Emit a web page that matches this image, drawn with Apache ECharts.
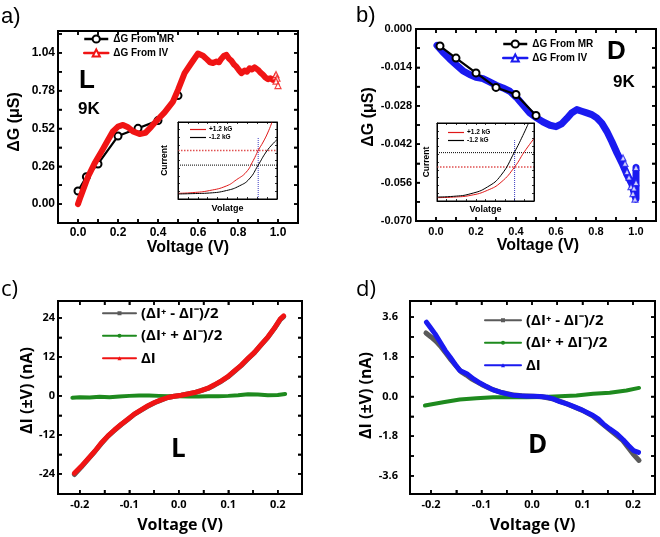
<!DOCTYPE html>
<html><head><meta charset="utf-8">
<script src="https://cdn.jsdelivr.net/npm/echarts@6/dist/echarts.min.js"></script>
<style>html,body{margin:0;padding:0;background:#fff}#c{width:660px;height:537px}</style>
</head><body><div id="c"></div>
<script>
// ---------- Panel a (L, 9K) ----------
const aVMR = [0.0, 0.042, 0.1, 0.2, 0.3, 0.4, 0.5];
const aGMR = [0.09, 0.188, 0.276, 0.468, 0.521, 0.574, 0.746];
const aVIV = [0, 0.01, 0.025, 0.05, 0.083, 0.117, 0.15, 0.175, 0.2, 0.225, 0.25, 0.275, 0.308, 0.337, 0.367, 0.4, 0.433, 0.475, 0.5, 0.533, 0.567, 0.6, 0.625, 0.645, 0.66, 0.675, 0.692, 0.705, 0.717, 0.73, 0.742, 0.755, 0.767, 0.78, 0.792, 0.805, 0.817, 0.833, 0.845, 0.858, 0.87, 0.883, 0.9, 0.912, 0.925, 0.937, 0.95, 0.962, 0.975, 0.985];
const aGIV = [0.0, 0.04, 0.096, 0.188, 0.28, 0.36, 0.44, 0.50, 0.533, 0.544, 0.528, 0.50, 0.482, 0.49, 0.533, 0.583, 0.63, 0.705, 0.785, 0.90, 0.97, 1.035, 1.02, 0.995, 0.975, 0.97, 0.98, 0.975, 1.0, 1.02, 1.026, 1.0, 0.985, 0.96, 0.945, 0.92, 0.90, 0.918, 0.91, 0.934, 0.925, 0.94, 0.923, 0.905, 0.889, 0.87, 0.859, 0.865, 0.854, 0.86];
const aVEnd = [0.985, 0.99, 0.995, 0.99, 1.0];
const aGEnd = [0.875, 0.89, 0.865, 0.845, 0.815];
const aXTicks = [0, 0.2, 0.4, 0.6, 0.8, 1.0];
const aXMinor = [0.1, 0.3, 0.5, 0.7, 0.9];
const aYTicks = [0, 0.26, 0.52, 0.78, 1.04];
const aYMinor = [0.13, 0.39, 0.65, 0.91, 1.17];

// ---------- Panel b (D, 9K) ----------
const bVMR = [0.02, 0.1, 0.2, 0.3, 0.4, 0.5];
const bGMR = [-0.0062, -0.0106, -0.016, -0.0213, -0.0239, -0.0315];
const bVIV = [0.005, 0.034, 0.067, 0.1, 0.134, 0.168, 0.2, 0.235, 0.268, 0.3, 0.335, 0.369, 0.402, 0.436, 0.469, 0.503, 0.536, 0.57, 0.6, 0.628, 0.653, 0.678, 0.704, 0.729, 0.754, 0.779, 0.804, 0.829, 0.854, 0.879, 0.905, 0.93, 0.955, 0.98, 0.995, 1.0, 1.0];
const bGIV = [-0.006, -0.0084, -0.0108, -0.013, -0.0152, -0.0166, -0.0176, -0.0181, -0.0193, -0.0205, -0.0215, -0.0227, -0.0249, -0.0278, -0.0306, -0.0324, -0.0339, -0.0351, -0.0356, -0.0346, -0.0327, -0.0306, -0.0294, -0.030, -0.0306, -0.0312, -0.0324, -0.0343, -0.0373, -0.041, -0.0452, -0.0489, -0.0531, -0.0567, -0.061, -0.062, -0.0505];
const bVEnd = [0.935, 0.945, 0.955, 0.965, 0.975, 0.985, 0.99, 0.995, 1.0, 1.0];
const bGEnd = [-0.047, -0.049, -0.052, -0.054, -0.0575, -0.060, -0.058, -0.062, -0.056, -0.0505];
const bYTicks = [-0.07, -0.056, -0.042, -0.028, -0.014, 0];
const bYMinor = [-0.063, -0.049, -0.035, -0.021, -0.007];

// ---------- Panel c (L) ----------
const cV = [-0.211, -0.197, -0.184, -0.170, -0.157, -0.143, -0.130, -0.116, -0.103, -0.090, -0.076, -0.063, -0.049, -0.036, -0.022, -0.009, 0.005, 0.018, 0.032, 0.045, 0.059, 0.072, 0.086, 0.099, 0.112, 0.126, 0.139, 0.153, 0.166, 0.180, 0.193, 0.205, 0.212];
const cDI = [-23.8, -21.7, -19.5, -17.1, -14.6, -12.3, -10.5, -8.7, -7.2, -5.6, -4.3, -3.1, -2.05, -1.23, -0.5, -0.1, 0.2, 0.6, 1.03, 1.64, 2.36, 3.4, 4.6, 5.9, 7.6, 9.4, 11.4, 13.4, 15.7, 18.1, 20.8, 23.6, 24.6];
const cHalfDiff = [-24.2, -21.9, -19.6, -17.2, -14.8, -12.4, -10.6, -8.8, -7.3, -5.7, -4.4, -3.2, -2.1, -1.3, -0.5, -0.1, 0.2, 0.6, 1.0, 1.6, 2.3, 3.3, 4.5, 5.8, 7.5, 9.3, 11.3, 13.3, 15.6, 18.0, 20.7, 23.5, 24.4];
const cVg = [-0.215, -0.2, -0.18, -0.16, -0.14, -0.12, -0.1, -0.08, -0.06, -0.04, -0.02, 0, 0.02, 0.04, 0.06, 0.08, 0.1, 0.12, 0.14, 0.16, 0.18, 0.2, 0.215];
const cHalfSum = [-0.6, -0.4, -0.5, -0.3, -0.4, -0.2, 0.0, 0.1, 0.1, 0.0, -0.1, -0.1, -0.2, -0.2, -0.1, -0.1, 0.0, 0.2, 0.5, 0.4, 0.2, 0.3, 0.6];
const cXTicks = [-0.2, -0.1, 0, 0.1, 0.2];
const cXMinor = [-0.15, -0.05, 0.05, 0.15];
const cYTicks = [-24, -12, 0, 12, 24];
const cYMinor = [-18, -6, 6, 18];

// ---------- Panel d (D) ----------
const dV = [-0.209, -0.202, -0.192, -0.182, -0.172, -0.162, -0.152, -0.143, -0.129, -0.116, -0.103, -0.090, -0.077, -0.063, -0.050, -0.037, -0.024, -0.011, 0.003, 0.016, 0.029, 0.042, 0.055, 0.069, 0.082, 0.095, 0.108, 0.121, 0.131, 0.141, 0.154, 0.168, 0.181, 0.191, 0.201, 0.211];
const dDI = [3.37, 3.15, 2.84, 2.47, 2.09, 1.78, 1.45, 1.18, 1.03, 0.80, 0.61, 0.45, 0.30, 0.20, 0.12, 0.06, 0.03, 0.015, 0.015, 0, -0.03, -0.11, -0.23, -0.33, -0.45, -0.57, -0.71, -0.86, -1.01, -1.24, -1.47, -1.69, -1.97, -2.22, -2.45, -2.53];
const dVgray = [-0.21, -0.2, -0.19, -0.18, -0.17, -0.16, -0.15, -0.14, -0.13, -0.12, -0.1, -0.08, -0.06, -0.04, -0.02, 0, 0.02, 0.04, 0.06, 0.08, 0.1, 0.12, 0.14, 0.16, 0.18, 0.19, 0.2, 0.212];
const dHalfDiff = [2.88, 2.7, 2.5, 2.25, 1.95, 1.65, 1.38, 1.12, 0.97, 0.8, 0.55, 0.33, 0.18, 0.08, 0.03, 0.01, -0.01, -0.1, -0.25, -0.44, -0.63, -0.88, -1.25, -1.62, -2.0, -2.3, -2.6, -2.9];
const dVg = [-0.212, -0.176, -0.143, -0.11, -0.077, -0.044, -0.011, 0.022, 0.055, 0.088, 0.121, 0.154, 0.187, 0.212];
const dHalfSum = [-0.41, -0.26, -0.14, -0.08, -0.03, -0.03, -0.03, -0.02, 0.015, 0.045, 0.12, 0.17, 0.27, 0.39];
const dYTicks = [-3.6, -1.8, 0, 1.8, 3.6];
const dYMinor = [-2.7, -0.9, 0.9, 2.7];

// ---------- Insets (schematic I-V) ----------
const iaRedX = [0, 0.15, 0.32, 0.49, 0.59, 0.69, 0.76, 0.81, 0.86, 0.91, 0.95];
const iaRedY = [0.074, 0.083, 0.11, 0.17, 0.25, 0.35, 0.5, 0.63, 0.74, 0.87, 1.0];
const iaBlkX = [0, 0.15, 0.32, 0.49, 0.62, 0.72, 0.81, 0.89, 0.96, 1.0];
const iaBlkY = [0.065, 0.07, 0.078, 0.11, 0.17, 0.26, 0.44, 0.61, 0.72, 0.77];
const iaIplus = 0.63, iaIminus = 0.44, iaV = 0.81, iaVTop = 0.8;
const ibBlkX = [0, 0.17, 0.35, 0.52, 0.66, 0.8, 0.885, 0.944];
const ibBlkY = [0.051, 0.06, 0.094, 0.18, 0.33, 0.63, 0.84, 1.0];
const ibRedX = [0, 0.17, 0.35, 0.52, 0.66, 0.8, 0.9, 1.0];
const ibRedY = [0.043, 0.05, 0.073, 0.137, 0.24, 0.436, 0.63, 0.8];
const ibIplus = 0.436, ibIminus = 0.62, ibV = 0.8, ibVTop = 0.78;
const insetTicks = [0.1, 0.2, 0.3, 0.4, 0.5, 0.6, 0.7, 0.8, 0.9];

// ---------------------------------------------------------------
const FA = '"Liberation Sans", Arial, sans-serif';
const FO = '"Open Sans", sans-serif';
const zip = (xs, ys) => xs.map((x, i) => [x, ys[i]]);
const asc = arr => arr.slice().sort((p, q) => p - q);
const RED = '#f01414', BLUE = '#1a1af0', GREEN = '#1e8a1e', GRAY = '#5a5a5a';

function tickStyle(vals, len, w) {
  return { show: true, inside: true, length: len, customValues: asc(vals), lineStyle: { color: '#000', width: w } };
}
function frameLine(w) { return { show: true, onZero: false, lineStyle: { color: '#000', width: w } }; }
function mainAxes(gi, dim, min, max, major, minor, fmt, font, fs, margin, name, nameGap, pad) {
  const first = {
    type: 'value', gridIndex: gi, min: min, max: max,
    position: dim === 'x' ? 'bottom' : 'left',
    axisLine: frameLine(2), splitLine: { show: false },
    axisTick: tickStyle(major.concat(minor), 4, 1.5),
    axisLabel: { customValues: asc(major), formatter: fmt, margin: margin, color: '#000', fontWeight: 'bold', fontSize: fs, fontFamily: font },
    name: name, nameLocation: 'middle', nameGap: nameGap,
    nameTextStyle: { color: '#000', fontWeight: 'bold', fontSize: 16, fontFamily: font, align: 'center', verticalAlign: 'middle', padding: pad }
  };
  const second = {
    type: 'value', gridIndex: gi, min: min, max: max,
    position: dim === 'x' ? 'top' : 'right',
    axisLine: frameLine(2), splitLine: { show: false },
    axisTick: tickStyle(major.concat(minor), 4, 1.5),
    axisLabel: { show: false }
  };
  return [first, second];
}
const f1 = v => Number(v).toFixed(1), f2 = v => Number(v).toFixed(2), f3 = v => Number(v).toFixed(3), f0 = v => String(Number(v));

const xAxes = [].concat(
  mainAxes(0, 'x', -0.1, 1.1, aXTicks, aXMinor, f1, FA, 12, 4, 'Voltage (V)', 24, [0, 0, 0, 20]),
  mainAxes(1, 'x', -0.1, 1.1, aXTicks, aXMinor, f1, FA, 11, 5, 'Voltage (V)', 23, [0, 0, 0, 4]),
  mainAxes(2, 'x', -0.244, 0.249, cXTicks, cXMinor, f1, FO, 11, 5, 'Voltage (V)', 31, [0, 0, 0, 0]),
  mainAxes(3, 'x', -0.2416, 0.2436, cXTicks, cXMinor, f1, FO, 11, 5, 'Voltage (V)', 31, [0, 0, 0, 0])
);
const yAxes = [].concat(
  mainAxes(0, 'y', -0.13, 1.19, aYTicks, aYMinor, f2, FA, 12, 3, 'ΔG (μS)', 43, [0, 0, 0, 10]),
  mainAxes(1, 'y', -0.07, 0, bYTicks, bYMinor, f3, FA, 11, 4, 'ΔG (μS)', 43, [0, 0, 0, 16]),
  mainAxes(2, 'y', -30.2, 29.2, cYTicks, cYMinor, f0, FO, 11, 3, 'ΔI (±V) (nA)', 30, [0, 0, 0, 14]),
  mainAxes(3, 'y', -4.42, 4.33, dYTicks, dYMinor, f1, FO, 11, 12, 'ΔI (±V) (nA)', 38, [0, 0, 0, 4])
);

// inset axes: plain value axes (labels I+, I-, V are drawn as labelled points below)
function insetAxis(gi, pos, name, gap, fs) {
  const a = { type: 'value', gridIndex: gi, min: 0, max: 1, position: pos,
    axisLine: frameLine(1), splitLine: { show: false },
    axisTick: tickStyle(insetTicks, 2, 0.8),
    axisLabel: { show: false } };
  if (name) {
    a.name = name; a.nameLocation = 'middle'; a.nameGap = gap;
    a.nameTextStyle = { color: '#000', fontWeight: 'bold', fontSize: fs, fontFamily: FA, verticalAlign: 'middle' };
  }
  return a;
}
xAxes.push(insetAxis(4, 'bottom', 'Volatge', 10, 9), insetAxis(5, 'bottom', 'Volatge', 9, 9), insetAxis(4, 'top'), insetAxis(5, 'top'));
yAxes.push(insetAxis(4, 'left', 'Current', 13, 8.5), insetAxis(5, 'left', 'Current', 10, 8.5), insetAxis(4, 'right'), insetAxis(5, 'right'));

const Z = '\u200b';
function thick(name, xi, data, color, w, symbol, z) {
  return { type: 'line', name: name, xAxisIndex: xi, yAxisIndex: xi, data: data, showSymbol: false, symbol: symbol, symbolSize: 7,
    lineStyle: { color: color, width: w, join: 'round', cap: 'round' }, itemStyle: { color: color }, z: z, silent: true };
}
function mr(name, xi, data, z) {
  return { type: 'line', name: name, xAxisIndex: xi, yAxisIndex: xi, data: data, symbol: 'emptyCircle', symbolSize: 7, showSymbol: true,
    lineStyle: { color: '#000', width: 2.2 }, itemStyle: { color: '#000', borderColor: '#000', borderWidth: 1.5 }, z: z, silent: true };
}
function endTri(xi, data, color) {
  return { type: 'scatter', name: '_end' + xi, xAxisIndex: xi, yAxisIndex: xi, data: data, symbol: 'triangle', symbolSize: 6,
    itemStyle: { color: '#fff', borderColor: color, borderWidth: 1.2 }, z: 5, silent: true };
}
function thin(name, xi, data, color, type, w) {
  return { type: 'line', name: name, xAxisIndex: xi, yAxisIndex: xi, data: data, showSymbol: false, symbol: 'none', smooth: type === 'solid',
    lineStyle: { color: color, width: w, type: type }, itemStyle: { color: color }, z: 3, silent: true };
}
function tag(xi, pt, text, color, pos) {
  return { type: 'scatter', name: '_tag', xAxisIndex: xi, yAxisIndex: xi, data: [pt], symbolSize: 1, clip: false, silent: true,
    itemStyle: { opacity: 0 },
    label: { show: true, position: pos, distance: 2, formatter: text, color: color, fontSize: 9, fontWeight: 'bold', fontFamily: FA } };
}

const series = [
  mr('ΔG From MR', 0, zip(aVMR, aGMR), 3),
  thick('ΔG From IV', 0, zip(aVIV, aGIV), RED, 6, 'emptyTriangle', 4),
  endTri(0, zip(aVEnd, aGEnd), RED),
  thick('ΔG From IV' + Z, 2, zip(bVIV, bGIV), BLUE, 7, 'emptyTriangle', 3),
  endTri(2, zip(bVEnd, bGEnd), BLUE),
  mr('ΔG From MR' + Z, 2, zip(bVMR, bGMR), 4),
  thick('(ΔI⁺ - ΔI⁻)/2', 4, zip(cV, cHalfDiff), GRAY, 5, 'rect', 2),
  thick('(ΔI⁺ + ΔI⁻)/2', 4, zip(cVg, cHalfSum), GREEN, 4, 'circle', 3),
  thick('ΔI', 4, zip(cV, cDI), RED, 5, 'triangle', 4),
  thick('(ΔI⁺ - ΔI⁻)/2' + Z, 6, zip(dVgray, dHalfDiff), GRAY, 5, 'rect', 2),
  thick('(ΔI⁺ + ΔI⁻)/2' + Z, 6, zip(dVg, dHalfSum), GREEN, 4, 'circle', 3),
  thick('ΔI' + Z, 6, zip(dV, dDI), BLUE, 5, 'triangle', 4),
  thin('_ipa', 8, [[0, iaIplus], [1, iaIplus]], '#e05050', 'dotted', 1.5),
  thin('_ima', 8, [[0, iaIminus], [1, iaIminus]], '#000', 'dotted', 1),
  thin('_va', 8, [[iaV, 0], [iaV, iaVTop]], '#3a3ac0', 'dotted', 1),
  thin('+1.2 kG', 8, zip(iaRedX, iaRedY), '#e01818', 'solid', 1),
  thin('-1.2 kG', 8, zip(iaBlkX, iaBlkY), '#000', 'solid', 1),
  tag(8, [0, iaIplus], 'I⁺', '#e01818', 'left'),
  tag(8, [0, iaIminus], 'I⁻', '#000', 'left'),
  tag(8, [iaV, 0], 'V', '#2a2ab8', 'bottom'),
  thin('_ipb', 9, [[0, ibIplus], [1, ibIplus]], '#e05050', 'dotted', 1.5),
  thin('_imb', 9, [[0, ibIminus], [1, ibIminus]], '#000', 'dotted', 1),
  thin('_vb', 9, [[ibV, 0], [ibV, ibVTop]], '#3a3ac0', 'dotted', 1),
  thin('+1.2 kG', 9, zip(ibRedX, ibRedY), '#e01818', 'solid', 1),
  thin('-1.2 kG', 9, zip(ibBlkX, ibBlkY), '#000', 'solid', 1),
  tag(9, [0, ibIplus], 'I⁺', '#e01818', 'left'),
  tag(9, [0, ibIminus], 'I⁻', '#000', 'left'),
  tag(9, [ibV, 0], 'V', '#2a2ab8', 'bottom')
];

const strip = n => n.replace(/\u200b/g, '');
function mainLegend(names, left, top, iw, ih, fs, font, gap, lh, lw) {
  return { show: true, orient: 'vertical', left: left, top: top, padding: 0, itemWidth: iw, itemHeight: ih, itemGap: gap,
    data: names, formatter: strip, selectedMode: false, lineStyle: { width: lw },
    textStyle: { color: '#000', fontSize: fs, fontWeight: 'bold', fontFamily: font, lineHeight: lh } };
}
function insetLegend(left, top) {
  return { show: true, orient: 'vertical', left: left, top: top, padding: 0, itemWidth: 16, itemHeight: 1.2, itemGap: 1,
    icon: 'rect', data: ['+1.2 kG', '-1.2 kG'], selectedMode: false,
    textStyle: { color: '#000', fontSize: 6.5, fontWeight: 'bold', fontFamily: FA, lineHeight: 7, padding: [0, 0, 0, -2] } };
}

const graphic = [];
function txt(t, x, y, size, weight, font) {
  graphic.push({ type: 'text', x: x, y: y, silent: true, z: 100,
    style: { text: t, font: weight + ' ' + size + 'px ' + font, fill: '#000', textAlign: 'left', textVerticalAlign: 'middle' } });
}
txt('a)', 1, 17, 22, 'normal', FA);
txt('b)', 356, 16, 22, 'normal', FA);
txt('c)', 1, 290, 22, 'normal', FO);
txt('d)', 356, 290, 22, 'normal', FO);
txt('L', 79, 81, 26, 'bold', FA);
txt('9K', 78, 109, 17, 'bold', FA);
txt('D', 607, 52, 26, 'bold', FA);
txt('9K', 613, 82, 17, 'bold', FA);
txt('L', 171, 450, 26, 'bold', FO);
txt('D', 528, 446, 26, 'bold', FO);

const option = {
  animation: false,
  grid: [
    { left: 58, top: 31, width: 240, height: 192 },
    { left: 416, top: 29, width: 240, height: 192 },
    { left: 58, top: 301, width: 244, height: 193 },
    { left: 410, top: 301, width: 245, height: 193 },
    { left: 178, top: 122, width: 99, height: 77 },
    { left: 437, top: 123, width: 97, height: 78 }
  ],
  xAxis: xAxes,
  yAxis: yAxes,
  legend: [
    mainLegend(['ΔG From MR', 'ΔG From IV'], 83, 33, 24, 9, 10, FA, 2, 12, 2.5),
    mainLegend(['ΔG From MR' + Z, 'ΔG From IV' + Z], 502, 38, 24, 9, 10, FA, 2, 12, 2.5),
    mainLegend(['(ΔI⁺ - ΔI⁻)/2', '(ΔI⁺ + ΔI⁻)/2', 'ΔI'], 102, 305, 33, 5, 15, FO, 6, 16.5, 2),
    mainLegend(['(ΔI⁺ - ΔI⁻)/2' + Z, '(ΔI⁺ + ΔI⁻)/2' + Z, 'ΔI' + Z], 484, 312, 36, 5, 15, FO, 6, 16.5, 2),
    insetLegend(190, 126),
    insetLegend(448, 129)
  ],
  graphic: graphic,
  series: series
};
const chart = echarts.init(document.getElementById('c'));
try { chart.setOption(option); } catch (e) { /* keep going so the frames below are still added */ }

// Frame boxes and inward ticks, placed through the chart's own grids and axis scales
const tickSets = [
  { gi: 0, xi: 0, xs: aXTicks.concat(aXMinor), ys: aYTicks.concat(aYMinor) },
  { gi: 1, xi: 2, xs: aXTicks.concat(aXMinor), ys: bYTicks.concat(bYMinor) },
  { gi: 2, xi: 4, xs: cXTicks.concat(cXMinor), ys: cYTicks.concat(cYMinor) },
  { gi: 3, xi: 6, xs: cXTicks.concat(cXMinor), ys: dYTicks.concat(dYMinor) }
];
try {
  const extra = [];
  const model = chart.getModel();
  for (let gi = 0; gi < 6; gi++) {
    const r = model.getComponent('grid', gi).coordinateSystem.getRect();
    extra.push({ type: 'rect', silent: true, z: 60, shape: { x: r.x, y: r.y, width: r.width, height: r.height },
      style: { fill: 'none', stroke: '#000', lineWidth: gi < 4 ? 2 : 1 } });
  }
  const seg = (x1, y1, x2, y2, w) => extra.push({ type: 'line', silent: true, z: 60, shape: { x1: x1, y1: y1, x2: x2, y2: y2 }, style: { stroke: '#000', lineWidth: w } });
  tickSets.forEach(s => {
    const r = model.getComponent('grid', s.gi).coordinateSystem.getRect();
    s.xs.forEach(v => {
      const px = chart.convertToPixel({ xAxisIndex: s.xi }, v);
      seg(px, r.y + r.height, px, r.y + r.height - 4, 1.5);
      seg(px, r.y, px, r.y + 4, 1.5);
    });
    s.ys.forEach(v => {
      const py = chart.convertToPixel({ yAxisIndex: s.xi }, v);
      seg(r.x, py, r.x + 4, py, 1.5);
      seg(r.x + r.width, py, r.x + r.width - 4, py, 1.5);
    });
  });
  chart.setOption({ graphic: { elements: graphic.concat(extra) } });
} catch (e) { /* axes already carry their own lines and ticks */ }
</script></body></html>
